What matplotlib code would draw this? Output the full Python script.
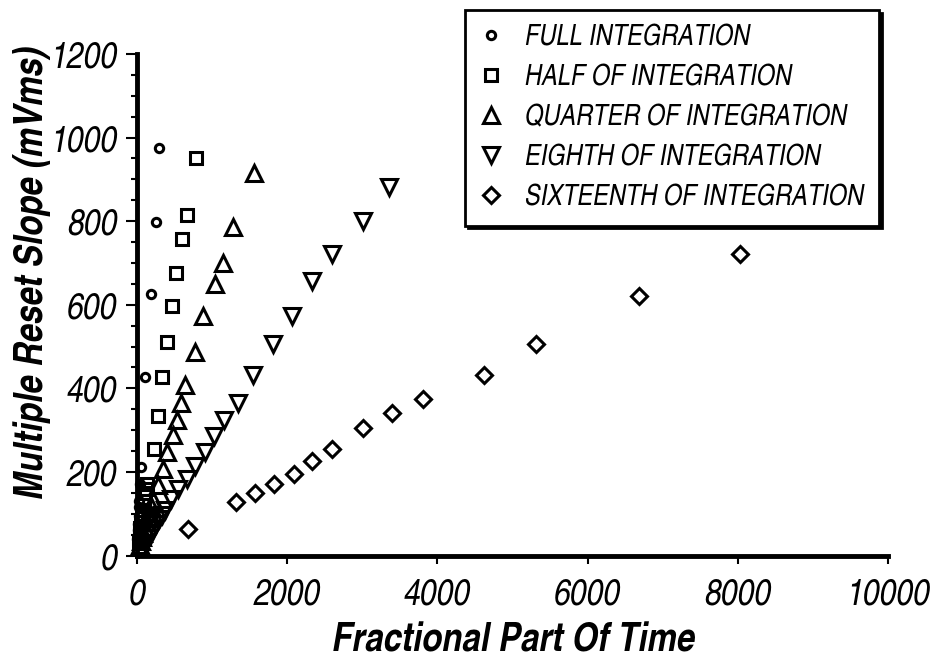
import matplotlib
matplotlib.use("Agg")
import matplotlib.pyplot as plt
from matplotlib.ticker import MultipleLocator

# values
full_x = [301, 253, 186, 115, 57, 45, 35, 25, 15, 30, 20, 10]
full_y = [975, 797, 626, 427, 212, 170, 130, 95, 60, 115, 75, 40]

half_x = [789, 665, 603, 519, 466, 403, 333, 288, 234, 140, 110, 80, 60, 40, 125, 95, 70, 50, 30]
half_y = [950, 815, 758, 676, 596, 511, 427, 333, 254, 172, 150, 110, 80, 50, 160, 130, 95, 65, 35]

quarter_x = [1561, 1285, 1144, 1038, 878, 772, 647, 589, 532, 479, 399, 354, 288, 221, 170, 130, 90, 60,
             190, 150, 110, 75, 45]
quarter_y = [915, 787, 700, 649, 572, 487, 407, 364, 324, 288, 248, 206, 168, 133, 105, 80, 55, 35,
             118, 92, 68, 45, 25]

eighth_x = [3361, 3015, 2599, 2328, 2062, 1818, 1551, 1352, 1166, 1028, 909, 776, 665, 554, 460, 380, 300,
            220, 150, 340, 260, 185, 110]
eighth_y = [881, 801, 722, 658, 574, 507, 431, 364, 324, 285, 248, 214, 184, 160, 135, 110, 88,
            64, 42, 98, 75, 52, 30]

sixteenth_x = [8027, 6687, 5313, 4625, 3805, 3393, 3015, 2602, 2337, 2093, 1827, 1574, 1317, 678]
sixteenth_y = [722, 622, 507, 433, 374, 340, 304, 254, 226, 195, 170, 150, 129, 63]

series_labels = ['FULL INTEGRATION', 'HALF OF INTEGRATION', 'QUARTER OF INTEGRATION',
                 'EIGHTH OF INTEGRATION', 'SIXTEENTH OF INTEGRATION']

# condensed helvetica look, fall back to wider fonts if missing
plt.rcParams['font.family'] = ['TeX Gyre Heros Cn', 'Liberation Sans', 'DejaVu Sans']
plt.rcParams['font.style'] = 'italic'

fig = plt.figure(figsize=(9.39, 6.61), dpi=100)
ax = fig.add_axes([0.1456, 0.1596, 0.8004, 0.7587])

style = dict(linestyle='none', markerfacecolor='none', markeredgecolor='black',
             markeredgewidth=2.2, clip_on=False)
ax.plot(full_x, full_y, marker='o', markersize=6, label=series_labels[0], **style)
ax.plot(half_x, half_y, marker='s', markersize=8, label=series_labels[1], **style)
ax.plot(quarter_x, quarter_y, marker='^', markersize=11, label=series_labels[2], **style)
ax.plot(eighth_x, eighth_y, marker='v', markersize=11, label=series_labels[3], **style)
ax.plot(sixteenth_x, sixteenth_y, marker='D', markersize=8, label=series_labels[4], **style)

ax.set_xlim(0, 10000)
ax.set_ylim(0, 1200)
ax.set_xticks(range(0, 10001, 2000))
ax.yaxis.set_major_locator(MultipleLocator(200))
ax.yaxis.set_minor_locator(MultipleLocator(50))

for side in ['top', 'right']:
    ax.spines[side].set_visible(False)
for side in ['left', 'bottom']:
    ax.spines[side].set_linewidth(3.5)

ax.tick_params(axis='y', which='major', direction='out', length=8, width=1.5, pad=6, labelsize=26.5)
ax.tick_params(axis='y', which='minor', direction='out', length=4, width=1.5)
ax.tick_params(axis='x', which='major', direction='out', length=6, width=1.5, pad=10, labelsize=26.5)

fig.text(513/939, 1 - 652/661, 'Fractional Part Of Time', ha='center', va='baseline',
         fontsize=29, fontweight='bold')
fig.text(32.5/939, 1 - 272.5/661, 'Multiple Reset Slope (mVms)', ha='center', va='center',
         rotation=90, fontsize=29, fontweight='bold')

leg = ax.legend(loc='upper left', bbox_to_anchor=(465/939, 1 - 10/661),
                bbox_transform=fig.transFigure, borderaxespad=0, frameon=True,
                fancybox=False, edgecolor='black', framealpha=1,
                shadow={'color': 'black', 'alpha': 1},
                fontsize=20.7, handlelength=0.8, handletextpad=0.8,
                labelspacing=0.45, borderpad=0.5)
leg.get_frame().set_linewidth(2)

fig.savefig('out.png', dpi=100)
